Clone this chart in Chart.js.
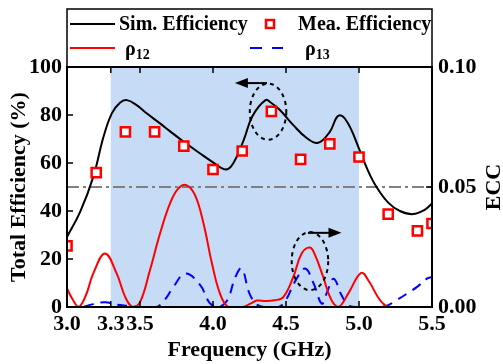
<!DOCTYPE html>
<html>
<head>
<meta charset="utf-8">
<script src="https://cdn.jsdelivr.net/npm/chart.js@4.4.1/dist/chart.umd.min.js"></script>
<style>
  html, body { margin: 0; padding: 0; background: #fff; }
</style>
</head>
<body>
<canvas id="c" width="503" height="364"></canvas>
<script>
// ---- data ----
const simFreq = [3.00, 3.09, 3.18, 3.25, 3.307, 3.363, 3.41, 3.477, 3.55, 3.637, 3.70, 3.80, 3.90, 4.00, 4.09, 4.14, 4.21, 4.27, 4.36, 4.40, 4.46, 4.55, 4.64, 4.72, 4.80, 4.86, 4.92, 5.00, 5.06, 5.12, 5.20, 5.28, 5.37, 5.45, 5.50];
const simEff  = [29.2, 39.6, 54.2, 70.9, 80.7, 85.1, 86.2, 84.1, 80.5, 76.5, 73.5, 68.8, 64.5, 60.3, 57.3, 60.0, 69.5, 79.5, 86.2, 85.0, 82.0, 75.8, 70.5, 68.4, 73.0, 79.7, 77.0, 66.0, 57.0, 50.0, 43.5, 40.0, 38.7, 40.5, 43.1];

const meaFreq = [3.0, 3.2, 3.4, 3.6, 3.8, 4.0, 4.2, 4.4, 4.6, 4.8, 5.0, 5.2, 5.4, 5.5];
const meaEff  = [25.5, 56.0, 73.0, 73.0, 67.0, 57.3, 65.0, 81.5, 61.5, 68.0, 62.5, 38.7, 31.7, 34.8];

const rho12Freq = [3.00, 3.04, 3.08, 3.13, 3.18, 3.26, 3.34, 3.40, 3.45, 3.50, 3.568, 3.637, 3.705, 3.763, 3.817, 3.877, 3.935, 3.993, 4.048, 4.105, 4.20, 4.26, 4.30, 4.36, 4.42, 4.48, 4.55, 4.607, 4.664, 4.70, 4.755, 4.81, 4.86, 4.93, 5.015, 5.07, 5.145, 5.21, 5.50];
const rho12     = [0.0077, 0.003, 0.0, 0.005, 0.014, 0.0223, 0.014, 0.004, 0.0, 0.002, 0.0153, 0.0306, 0.0431, 0.0494, 0.0508, 0.0466, 0.0348, 0.0181, 0.0056, 0.0, 0.0, 0.0015, 0.0027, 0.0025, 0.0028, 0.004, 0.0125, 0.0223, 0.0248, 0.0215, 0.0125, 0.003, 0.0, 0.006, 0.0142, 0.0105, 0.0028, 0.0, 0.0];

const rho13Freq = [3.00, 3.10, 3.18, 3.26, 3.34, 3.42, 3.50, 3.55, 3.614, 3.67, 3.728, 3.81, 3.91, 3.98, 4.04, 4.10, 4.15, 4.196, 4.25, 4.30, 4.35, 4.45, 4.50, 4.56, 4.63, 4.69, 4.745, 4.78, 4.826, 4.88, 4.93, 5.00, 5.10, 5.19, 5.235, 5.33, 5.40, 5.465, 5.50];
const rho13     = [0.0, 0.0, 0.0012, 0.002, 0.001, 0.0005, 0.0, 0.0, 0.0, 0.003, 0.0083, 0.0139, 0.0093, 0.0015, 0.0, 0.003, 0.012, 0.016, 0.0056, 0.001, 0.0, 0.0, 0.003, 0.0104, 0.016, 0.0097, 0.0014, 0.006, 0.0118, 0.005, 0.0005, 0.0, 0.0, 0.0005, 0.002, 0.0056, 0.0085, 0.0118, 0.0125];

const freqTicks = [3.0, 3.3, 3.5, 4.0, 4.5, 5.0, 5.5];
const effTicks  = [0, 20, 40, 60, 80, 100];
const eccTicks  = [0, 0.05, 0.10];
const eccLimit  = 0.05;
const bandStart = 3.3, bandEnd = 5.0;

const FONT = '"Liberation Serif", "Times New Roman", serif';

const xy = (xs, ys) => xs.map((x, i) => ({ x: x, y: ys[i] }));

// dotted rings + arrows (data coords)
const marks = [
  { axis: 'y',  cx: 4.377, cy: 81.4,   rx: 0.125, ry: 11.7,   ax0: 4.37,  ax1: 4.15, ay: 93.3 },
  { axis: 'y1', cx: 4.664, cy: 0.0191, rx: 0.125, ry: 0.0121, ax0: 4.65,  ax1: 4.88, ay: 0.0309 }
];

function arrow(ctx, x0, x1, y) {
  const dir = Math.sign(x1 - x0);
  ctx.beginPath();
  ctx.moveTo(x0, y);
  ctx.lineTo(x1 - dir * 10, y);
  ctx.stroke();
  ctx.beginPath();
  ctx.moveTo(x1, y);
  ctx.lineTo(x1 - dir * 13, y - 5);
  ctx.lineTo(x1 - dir * 13, y + 5);
  ctx.closePath();
  ctx.fill();
}

const decor = {
  id: 'decor',
  beforeDatasetsDraw(chart) {
    const { ctx, chartArea: a, scales: { x } } = chart;
    const x0 = x.getPixelForValue(bandStart), x1 = x.getPixelForValue(bandEnd);
    ctx.save();
    ctx.fillStyle = '#c6dbf5';
    ctx.fillRect(x0, a.top, x1 - x0, a.bottom - a.top);
    ctx.restore();
  },
  afterDatasetsDraw(chart) {
    const { ctx, scales } = chart;
    const x = scales.x;
    ctx.save();
    ctx.strokeStyle = '#000';
    ctx.fillStyle = '#000';
    marks.forEach(m => {
      const y = scales[m.axis];
      const cx = x.getPixelForValue(m.cx), cy = y.getPixelForValue(m.cy);
      const rx = x.getPixelForValue(m.cx + m.rx) - cx;
      const ry = cy - y.getPixelForValue(m.cy + m.ry);
      ctx.lineWidth = 2;
      ctx.setLineDash([4, 4]);
      ctx.beginPath();
      ctx.ellipse(cx, cy, rx, ry, 0, 0, Math.PI * 2);
      ctx.stroke();
      ctx.setLineDash([]);
      arrow(ctx, x.getPixelForValue(m.ax0), x.getPixelForValue(m.ax1), y.getPixelForValue(m.ay));
    });
    ctx.restore();
  },
  afterDraw(chart) {
    const { ctx, chartArea: a, scales: { x, y, y1 } } = chart;
    ctx.save();
    // frame
    ctx.strokeStyle = '#000';
    ctx.lineWidth = 2;
    ctx.strokeRect(a.left, a.top, a.right - a.left, a.bottom - a.top);
    // inward ticks
    ctx.lineWidth = 1.5;
    ctx.beginPath();
    freqTicks.forEach(v => {
      const p = x.getPixelForValue(v);
      ctx.moveTo(p, a.bottom); ctx.lineTo(p, a.bottom - 6);
      ctx.moveTo(p, a.top); ctx.lineTo(p, a.top + 6);
    });
    effTicks.forEach(v => {
      const p = y.getPixelForValue(v);
      ctx.moveTo(a.left, p); ctx.lineTo(a.left + 6, p);
    });
    eccTicks.forEach(v => {
      const p = y1.getPixelForValue(v);
      ctx.moveTo(a.right, p); ctx.lineTo(a.right - 6, p);
    });
    ctx.stroke();

    // legend box above the plot
    const top = 9;
    ctx.lineWidth = 1.5;
    ctx.strokeRect(a.left, top, a.right - a.left, a.top - top);
    const ds = chart.data.datasets;
    const sim = ds[1], mea = ds[0], r12 = ds[2], r13 = ds[3];
    const row1 = 24, row2 = 48;
    ctx.font = 'bold 20px ' + FONT;
    ctx.fillStyle = '#000';
    ctx.textBaseline = 'middle';

    const line = (d, x0, x1, yy) => {
      ctx.strokeStyle = d.borderColor;
      ctx.lineWidth = 2;
      ctx.setLineDash(d.legendDash || []);
      ctx.beginPath(); ctx.moveTo(x0, yy); ctx.lineTo(x1, yy); ctx.stroke();
      ctx.setLineDash([]);
    };
    line(sim, 70, 115, row1);
    ctx.fillText(sim.label, 119, row1 + 1);
    ctx.strokeStyle = mea.borderColor;
    ctx.lineWidth = 2.5;
    ctx.fillStyle = '#fff';
    ctx.fillRect(266, row1 - 4, 8, 8);
    ctx.strokeRect(266, row1 - 4, 8, 8);
    ctx.fillStyle = '#000';
    ctx.fillText(mea.label, 298, row1 + 1);

    const sub = (d, tx) => {
      ctx.textBaseline = 'alphabetic';
      ctx.font = 'bold 20px ' + FONT;
      ctx.fillText(d.label, tx, 55);
      const w = ctx.measureText(d.label).width;
      ctx.font = 'bold 14px ' + FONT;
      ctx.fillText(d.subLabel, tx + w, 59);
    };
    line(r12, 70, 115, row2);
    sub(r12, 125);
    line(r13, 250, 283, row2);
    sub(r13, 305);

    // right axis title, reading bottom to top
    ctx.font = 'bold 22px ' + FONT;
    ctx.textAlign = 'center';
    ctx.textBaseline = 'middle';
    ctx.translate(494, (a.top + a.bottom) / 2);
    ctx.rotate(-Math.PI / 2);
    ctx.fillText('ECC', 0, 0);
    ctx.restore();
  }
};

const tickFont = { family: FONT, size: 22, weight: 'bold' };
const titleFont = { family: FONT, size: 22, weight: 'bold' };

new Chart(document.getElementById('c'), {
  type: 'line',
  data: {
    datasets: [
      {
        label: 'Mea. Efficiency',
        data: xy(meaFreq, meaEff),
        yAxisID: 'y',
        showLine: false,
        pointStyle: 'rect',
        pointRadius: 6.5,
        pointBorderWidth: 2.5,
        borderColor: '#ff0000',
        pointBackgroundColor: '#ffffff',
        backgroundColor: '#ffffff'
      },
      {
        label: 'Sim. Efficiency',
        data: xy(simFreq, simEff),
        yAxisID: 'y',
        borderColor: '#000000',
        borderWidth: 2,
        pointRadius: 0,
        tension: 0.4
      },
      {
        label: 'ρ',
        subLabel: '12',
        data: xy(rho12Freq, rho12),
        yAxisID: 'y1',
        borderColor: '#ff0000',
        borderWidth: 2,
        pointRadius: 0,
        tension: 0.4
      },
      {
        label: 'ρ',
        subLabel: '13',
        data: xy(rho13Freq, rho13),
        yAxisID: 'y1',
        borderColor: '#0000ff',
        borderWidth: 2,
        borderDash: [10, 7],
        legendDash: [12, 10],
        pointRadius: 0,
        tension: 0.4
      },
      {
        label: 'limit',
        data: [{ x: freqTicks[0], y: eccLimit }, { x: freqTicks[freqTicks.length - 1], y: eccLimit }],
        yAxisID: 'y1',
        borderColor: '#808080',
        borderWidth: 2,
        borderDash: [12, 4, 3, 4],
        pointRadius: 0
      }
    ]
  },
  options: {
    responsive: false,
    animation: false,
    events: [],
    layout: { padding: { top: 67, left: 0, right: 0, bottom: 0 } },
    plugins: { legend: { display: false }, tooltip: { enabled: false } },
    scales: {
      x: {
        type: 'linear',
        min: 3.0, max: 5.5,
        grid: { display: false, drawTicks: false },
        border: { display: false },
        afterFit: s => { s.height = 57; },
        afterBuildTicks: s => { s.ticks = freqTicks.map(v => ({ value: v })); },
        ticks: {
          autoSkip: false, maxRotation: 0, padding: 4,
          color: '#000', font: tickFont,
          callback: v => v.toFixed(1)
        },
        title: { display: true, text: 'Frequency (GHz)', color: '#000', font: titleFont, padding: { top: 0, bottom: 0 } }
      },
      y: {
        position: 'left',
        min: 0, max: 100,
        grid: { display: false, drawTicks: false },
        border: { display: false },
        afterFit: s => { s.width = 67; },
        afterBuildTicks: s => { s.ticks = effTicks.map(v => ({ value: v })); },
        ticks: { padding: 5, color: '#000', font: tickFont },
        title: { display: true, text: 'Total Efficiency (%)', color: '#000', font: titleFont, padding: { top: 6, bottom: 0 } }
      },
      y1: {
        position: 'right',
        min: 0, max: 0.1,
        grid: { display: false, drawTicks: false },
        border: { display: false },
        afterFit: s => { s.width = 71; },
        afterBuildTicks: s => { s.ticks = eccTicks.map(v => ({ value: v })); },
        ticks: { padding: 6, color: '#000', font: tickFont, callback: v => v.toFixed(2) }
      }
    }
  },
  plugins: [decor]
});
</script>
</body>
</html>
